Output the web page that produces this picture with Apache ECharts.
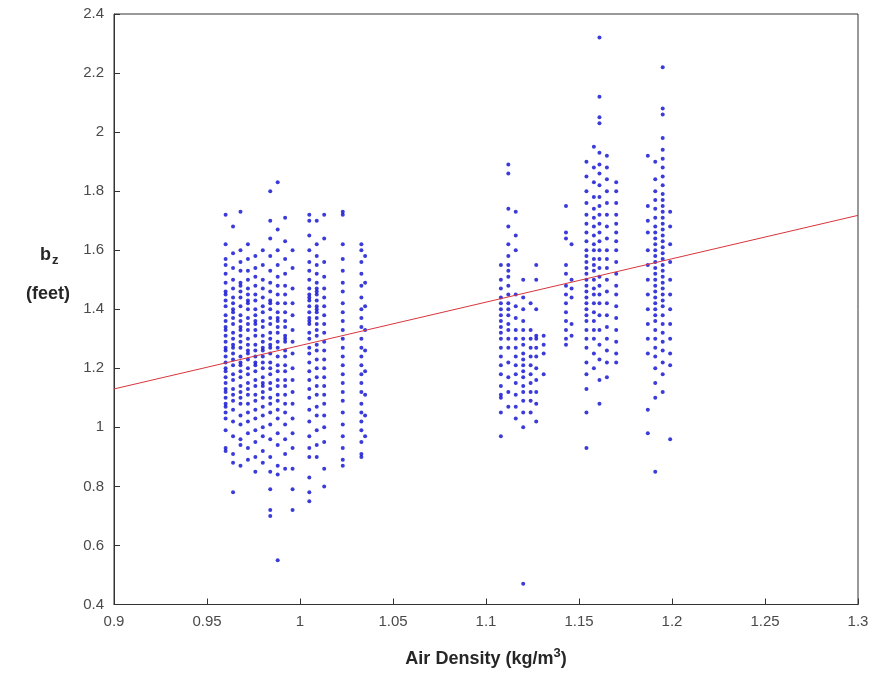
<!DOCTYPE html>
<html lang="en">
<head>
    <meta charset="UTF-8">
    <title>Air density vs b_z</title>
    <script type="text/javascript" src="https://cdn.jsdelivr.net/npm/echarts@6/dist/echarts.min.js"></script>
    <style>
        html, body { margin: 0; padding: 0; background: #fff; }
    </style>
</head>
<body>
<div id="myChart" style="width:875px;height:673px;"></div>
<script type="text/javascript">
    // column positions (air density) and measured b_z values in each column
    var colX = [0.960, 0.964, 0.968, 0.972, 0.976, 0.980, 0.984, 0.988, 0.992, 0.996,
                1.005, 1.009, 1.013, 1.023, 1.033, 1.035,
                1.108, 1.112, 1.116, 1.120, 1.124, 1.127, 1.131, 1.143, 1.146,
                1.154, 1.158, 1.161, 1.165, 1.170, 1.187, 1.191, 1.195, 1.199];
    var colY = [
        [1.72, 1.62, 1.55, 1.52, 1.49, 1.46, 1.43, 1.41, 1.38, 1.36, 1.33, 1.31, 1.29, 1.27, 1.24, 1.22, 1.20, 1.17, 1.15, 1.12, 1.10, 1.07, 1.05, 1.03, 0.99, 0.93, 0.92, 1.57, 1.45, 1.34, 1.26, 1.19, 1.13, 1.08],
        [1.68, 1.59, 1.54, 1.50, 1.47, 1.44, 1.42, 1.39, 1.37, 1.35, 1.32, 1.30, 1.28, 1.25, 1.23, 1.21, 1.18, 1.16, 1.13, 1.11, 1.09, 1.06, 1.02, 0.97, 0.91, 0.88, 0.78, 1.40, 1.27],
        [1.73, 1.60, 1.56, 1.53, 1.49, 1.46, 1.44, 1.41, 1.38, 1.36, 1.34, 1.31, 1.29, 1.27, 1.24, 1.22, 1.19, 1.17, 1.14, 1.12, 1.10, 1.08, 1.04, 1.01, 0.96, 0.94, 0.87, 1.48, 1.33, 1.21],
        [1.62, 1.57, 1.53, 1.50, 1.47, 1.45, 1.42, 1.40, 1.37, 1.35, 1.33, 1.30, 1.28, 1.26, 1.23, 1.20, 1.18, 1.15, 1.13, 1.11, 1.08, 1.05, 1.02, 0.98, 0.93, 0.89, 1.43, 1.25],
        [1.58, 1.54, 1.51, 1.48, 1.45, 1.43, 1.40, 1.38, 1.36, 1.33, 1.31, 1.28, 1.26, 1.24, 1.21, 1.19, 1.16, 1.14, 1.11, 1.09, 1.06, 1.03, 0.99, 0.95, 0.90, 0.85, 1.35, 1.22],
        [1.60, 1.55, 1.50, 1.47, 1.44, 1.41, 1.39, 1.36, 1.34, 1.31, 1.29, 1.27, 1.24, 1.22, 1.20, 1.17, 1.15, 1.12, 1.10, 1.07, 1.04, 1.00, 0.97, 0.92, 0.88, 1.26, 1.14],
        [1.80, 1.70, 1.64, 1.58, 1.53, 1.49, 1.46, 1.43, 1.40, 1.37, 1.35, 1.32, 1.30, 1.27, 1.25, 1.22, 1.20, 1.18, 1.15, 1.13, 1.10, 1.08, 1.05, 1.01, 0.96, 0.90, 0.85, 0.79, 0.72, 0.70, 1.42, 1.28],
        [1.83, 1.67, 1.60, 1.55, 1.51, 1.48, 1.45, 1.42, 1.39, 1.37, 1.34, 1.32, 1.29, 1.27, 1.24, 1.21, 1.19, 1.16, 1.14, 1.11, 1.09, 1.06, 1.03, 0.98, 0.94, 0.87, 0.84, 0.55, 1.36],
        [1.71, 1.63, 1.57, 1.52, 1.48, 1.45, 1.42, 1.39, 1.36, 1.34, 1.31, 1.29, 1.26, 1.24, 1.21, 1.19, 1.16, 1.14, 1.11, 1.08, 1.05, 1.01, 0.96, 0.91, 0.86, 1.30],
        [1.60, 1.54, 1.47, 1.42, 1.38, 1.33, 1.29, 1.25, 1.20, 1.16, 1.12, 1.08, 1.03, 0.98, 0.93, 0.86, 0.79, 0.72],
        [1.72, 1.70, 1.65, 1.60, 1.56, 1.53, 1.50, 1.47, 1.45, 1.43, 1.41, 1.39, 1.37, 1.35, 1.32, 1.30, 1.27, 1.25, 1.22, 1.19, 1.16, 1.13, 1.10, 1.06, 1.02, 0.97, 0.93, 0.90, 0.83, 0.78, 0.75, 1.44, 1.36],
        [1.70, 1.62, 1.58, 1.55, 1.52, 1.49, 1.47, 1.45, 1.43, 1.41, 1.39, 1.37, 1.35, 1.33, 1.31, 1.28, 1.26, 1.23, 1.20, 1.17, 1.14, 1.11, 1.07, 1.04, 0.99, 0.94, 0.90, 1.46, 1.40],
        [1.72, 1.64, 1.56, 1.51, 1.47, 1.44, 1.41, 1.38, 1.35, 1.32, 1.29, 1.26, 1.23, 1.20, 1.17, 1.14, 1.11, 1.08, 1.04, 1.00, 0.95, 0.86, 0.80],
        [1.73, 1.72, 1.62, 1.57, 1.53, 1.49, 1.46, 1.42, 1.39, 1.36, 1.33, 1.30, 1.27, 1.24, 1.21, 1.18, 1.15, 1.12, 1.09, 1.05, 1.01, 0.97, 0.93, 0.89, 0.87],
        [1.62, 1.60, 1.56, 1.52, 1.48, 1.44, 1.40, 1.37, 1.34, 1.30, 1.27, 1.24, 1.21, 1.18, 1.15, 1.12, 1.08, 1.05, 1.02, 0.99, 0.95, 0.91, 0.90],
        [1.58, 1.49, 1.41, 1.33, 1.26, 1.19, 1.11, 1.04, 0.97],
        [1.55, 1.50, 1.47, 1.44, 1.42, 1.40, 1.38, 1.36, 1.34, 1.32, 1.30, 1.27, 1.24, 1.21, 1.18, 1.14, 1.11, 1.10, 1.05, 0.97],
        [1.89, 1.86, 1.74, 1.68, 1.62, 1.58, 1.55, 1.53, 1.51, 1.48, 1.45, 1.42, 1.40, 1.38, 1.35, 1.33, 1.30, 1.27, 1.22, 1.17, 1.12, 1.07],
        [1.73, 1.65, 1.60, 1.45, 1.41, 1.37, 1.33, 1.30, 1.27, 1.24, 1.21, 1.18, 1.15, 1.11, 1.07, 1.03],
        [1.50, 1.44, 1.40, 1.36, 1.33, 1.30, 1.28, 1.25, 1.23, 1.21, 1.19, 1.17, 1.14, 1.12, 1.09, 1.05, 1.00, 0.47],
        [1.42, 1.33, 1.30, 1.27, 1.24, 1.21, 1.18, 1.15, 1.12, 1.09, 1.05],
        [1.55, 1.50, 1.40, 1.31, 1.30, 1.27, 1.24, 1.20, 1.16, 1.12, 1.08, 1.02],
        [1.31, 1.28, 1.25, 1.18],
        [1.75, 1.66, 1.64, 1.55, 1.52, 1.48, 1.45, 1.42, 1.39, 1.36, 1.33, 1.30, 1.28],
        [1.62, 1.50, 1.47, 1.44, 1.35, 1.31],
        [1.90, 1.85, 1.80, 1.76, 1.72, 1.69, 1.66, 1.63, 1.60, 1.58, 1.56, 1.54, 1.52, 1.50, 1.48, 1.46, 1.44, 1.42, 1.40, 1.38, 1.36, 1.33, 1.30, 1.27, 1.22, 1.18, 1.13, 1.05, 0.93],
        [1.95, 1.88, 1.83, 1.78, 1.74, 1.71, 1.68, 1.65, 1.62, 1.60, 1.57, 1.55, 1.53, 1.50, 1.47, 1.45, 1.42, 1.39, 1.36, 1.33, 1.30, 1.25, 1.20],
        [2.32, 2.12, 2.05, 2.03, 1.93, 1.89, 1.86, 1.82, 1.78, 1.75, 1.72, 1.69, 1.66, 1.63, 1.60, 1.57, 1.54, 1.51, 1.48, 1.45, 1.42, 1.38, 1.33, 1.28, 1.23, 1.16, 1.08],
        [1.92, 1.88, 1.84, 1.80, 1.76, 1.72, 1.68, 1.64, 1.60, 1.57, 1.54, 1.50, 1.46, 1.42, 1.38, 1.34, 1.30, 1.26, 1.22, 1.17],
        [1.83, 1.80, 1.76, 1.72, 1.69, 1.66, 1.63, 1.60, 1.56, 1.52, 1.48, 1.45, 1.41, 1.37, 1.33, 1.29, 1.25, 1.22],
        [1.92, 1.75, 1.70, 1.66, 1.60, 1.55, 1.50, 1.45, 1.40, 1.35, 1.30, 1.25, 1.06, 0.98],
        [1.90, 1.84, 1.80, 1.77, 1.74, 1.71, 1.68, 1.66, 1.64, 1.62, 1.60, 1.58, 1.56, 1.54, 1.52, 1.50, 1.48, 1.46, 1.44, 1.42, 1.40, 1.38, 1.36, 1.33, 1.30, 1.27, 1.24, 1.20, 1.15, 1.10, 0.85],
        [2.22, 2.08, 2.06, 1.98, 1.94, 1.91, 1.88, 1.85, 1.82, 1.79, 1.77, 1.75, 1.73, 1.71, 1.69, 1.67, 1.65, 1.63, 1.61, 1.59, 1.57, 1.55, 1.53, 1.51, 1.49, 1.47, 1.45, 1.43, 1.41, 1.38, 1.35, 1.32, 1.29, 1.26, 1.22, 1.18, 1.12],
        [1.73, 1.68, 1.62, 1.56, 1.50, 1.45, 1.40, 1.35, 1.30, 1.25, 1.21, 0.96]
    ];
    // fitted line end points
    var fitX = [0.9, 1.3];
    var fitY = [1.13, 1.718];

    var points = [];
    for (var i = 0; i < colX.length; i++) {
        for (var j = 0; j < colY[i].length; j++) {
            points.push([colX[i], colY[i][j]]);
        }
    }
    var fitLine = [[fitX[0], fitY[0]], [fitX[1], fitY[1]]];

    var myChart = echarts.init(document.getElementById('myChart'));
    var labelFont = 'Liberation Sans, Arial, sans-serif';
    var option = {
        animation: false,
        grid: {
            left: 114, right: 17, top: 14, bottom: 66,
            show: true, borderColor: '#333', borderWidth: 1
        },
        xAxis: {
            type: 'value', min: 0.9, max: 1.3, interval: 0.05,
            axisLine: { show: true, lineStyle: { color: '#333' } },
            axisTick: { inside: true, length: 6, lineStyle: { color: '#333' } },
            splitLine: { show: false },
            axisLabel: {
                color: '#4a4a4a', fontSize: 15, fontFamily: labelFont, margin: 10,
                formatter: function (v) { return +v.toFixed(2) + ''; }
            },
            name: '{a|Air Density (kg/m}{s|3}{a|)}',
            nameLocation: 'middle', nameGap: 42,
            nameTextStyle: {
                rich: {
                    a: { fontSize: 18, fontWeight: 'bold', color: '#262626', fontFamily: labelFont },
                    s: { fontSize: 13, fontWeight: 'bold', color: '#262626', fontFamily: labelFont, verticalAlign: 'top', padding: [0, 0, 12, 0] }
                }
            }
        },
        yAxis: {
            type: 'value', min: 0.4, max: 2.4, interval: 0.2,
            axisLine: { show: true, lineStyle: { color: '#333' } },
            axisTick: { show: true, inside: true, length: 6, lineStyle: { color: '#333' } },
            splitLine: { show: false },
            axisLabel: {
                color: '#4a4a4a', fontSize: 15, fontFamily: labelFont, margin: 10,
                formatter: function (v) { return +v.toFixed(1) + ''; }
            }
        },
        graphic: [
            {
                type: 'text', left: 26, top: 246,
                style: {
                    text: '{b|b}{z|z}\n{f|(feet)}',
                    rich: {
                        b: { fontSize: 18, fontWeight: 'bold', fill: '#262626', fontFamily: labelFont, padding: [0, 0, 0, 14] },
                        z: { fontSize: 13, fontWeight: 'bold', fill: '#262626', fontFamily: labelFont, verticalAlign: 'bottom', padding: [10, 0, 0, 1] },
                        f: { fontSize: 18, fontWeight: 'bold', fill: '#262626', fontFamily: labelFont, lineHeight: 56 }
                    }
                }
            }
        ],
        series: [
            {
                type: 'scatter',
                data: points,
                symbolSize: 4,
                itemStyle: { color: '#0a0ad0' },
                silent: true
            },
            {
                type: 'line',
                data: fitLine,
                symbol: 'none',
                lineStyle: { color: '#d9343a', width: 1 },
                silent: true
            }
        ]
    };
    myChart.setOption(option);
</script>
</body>
</html>
